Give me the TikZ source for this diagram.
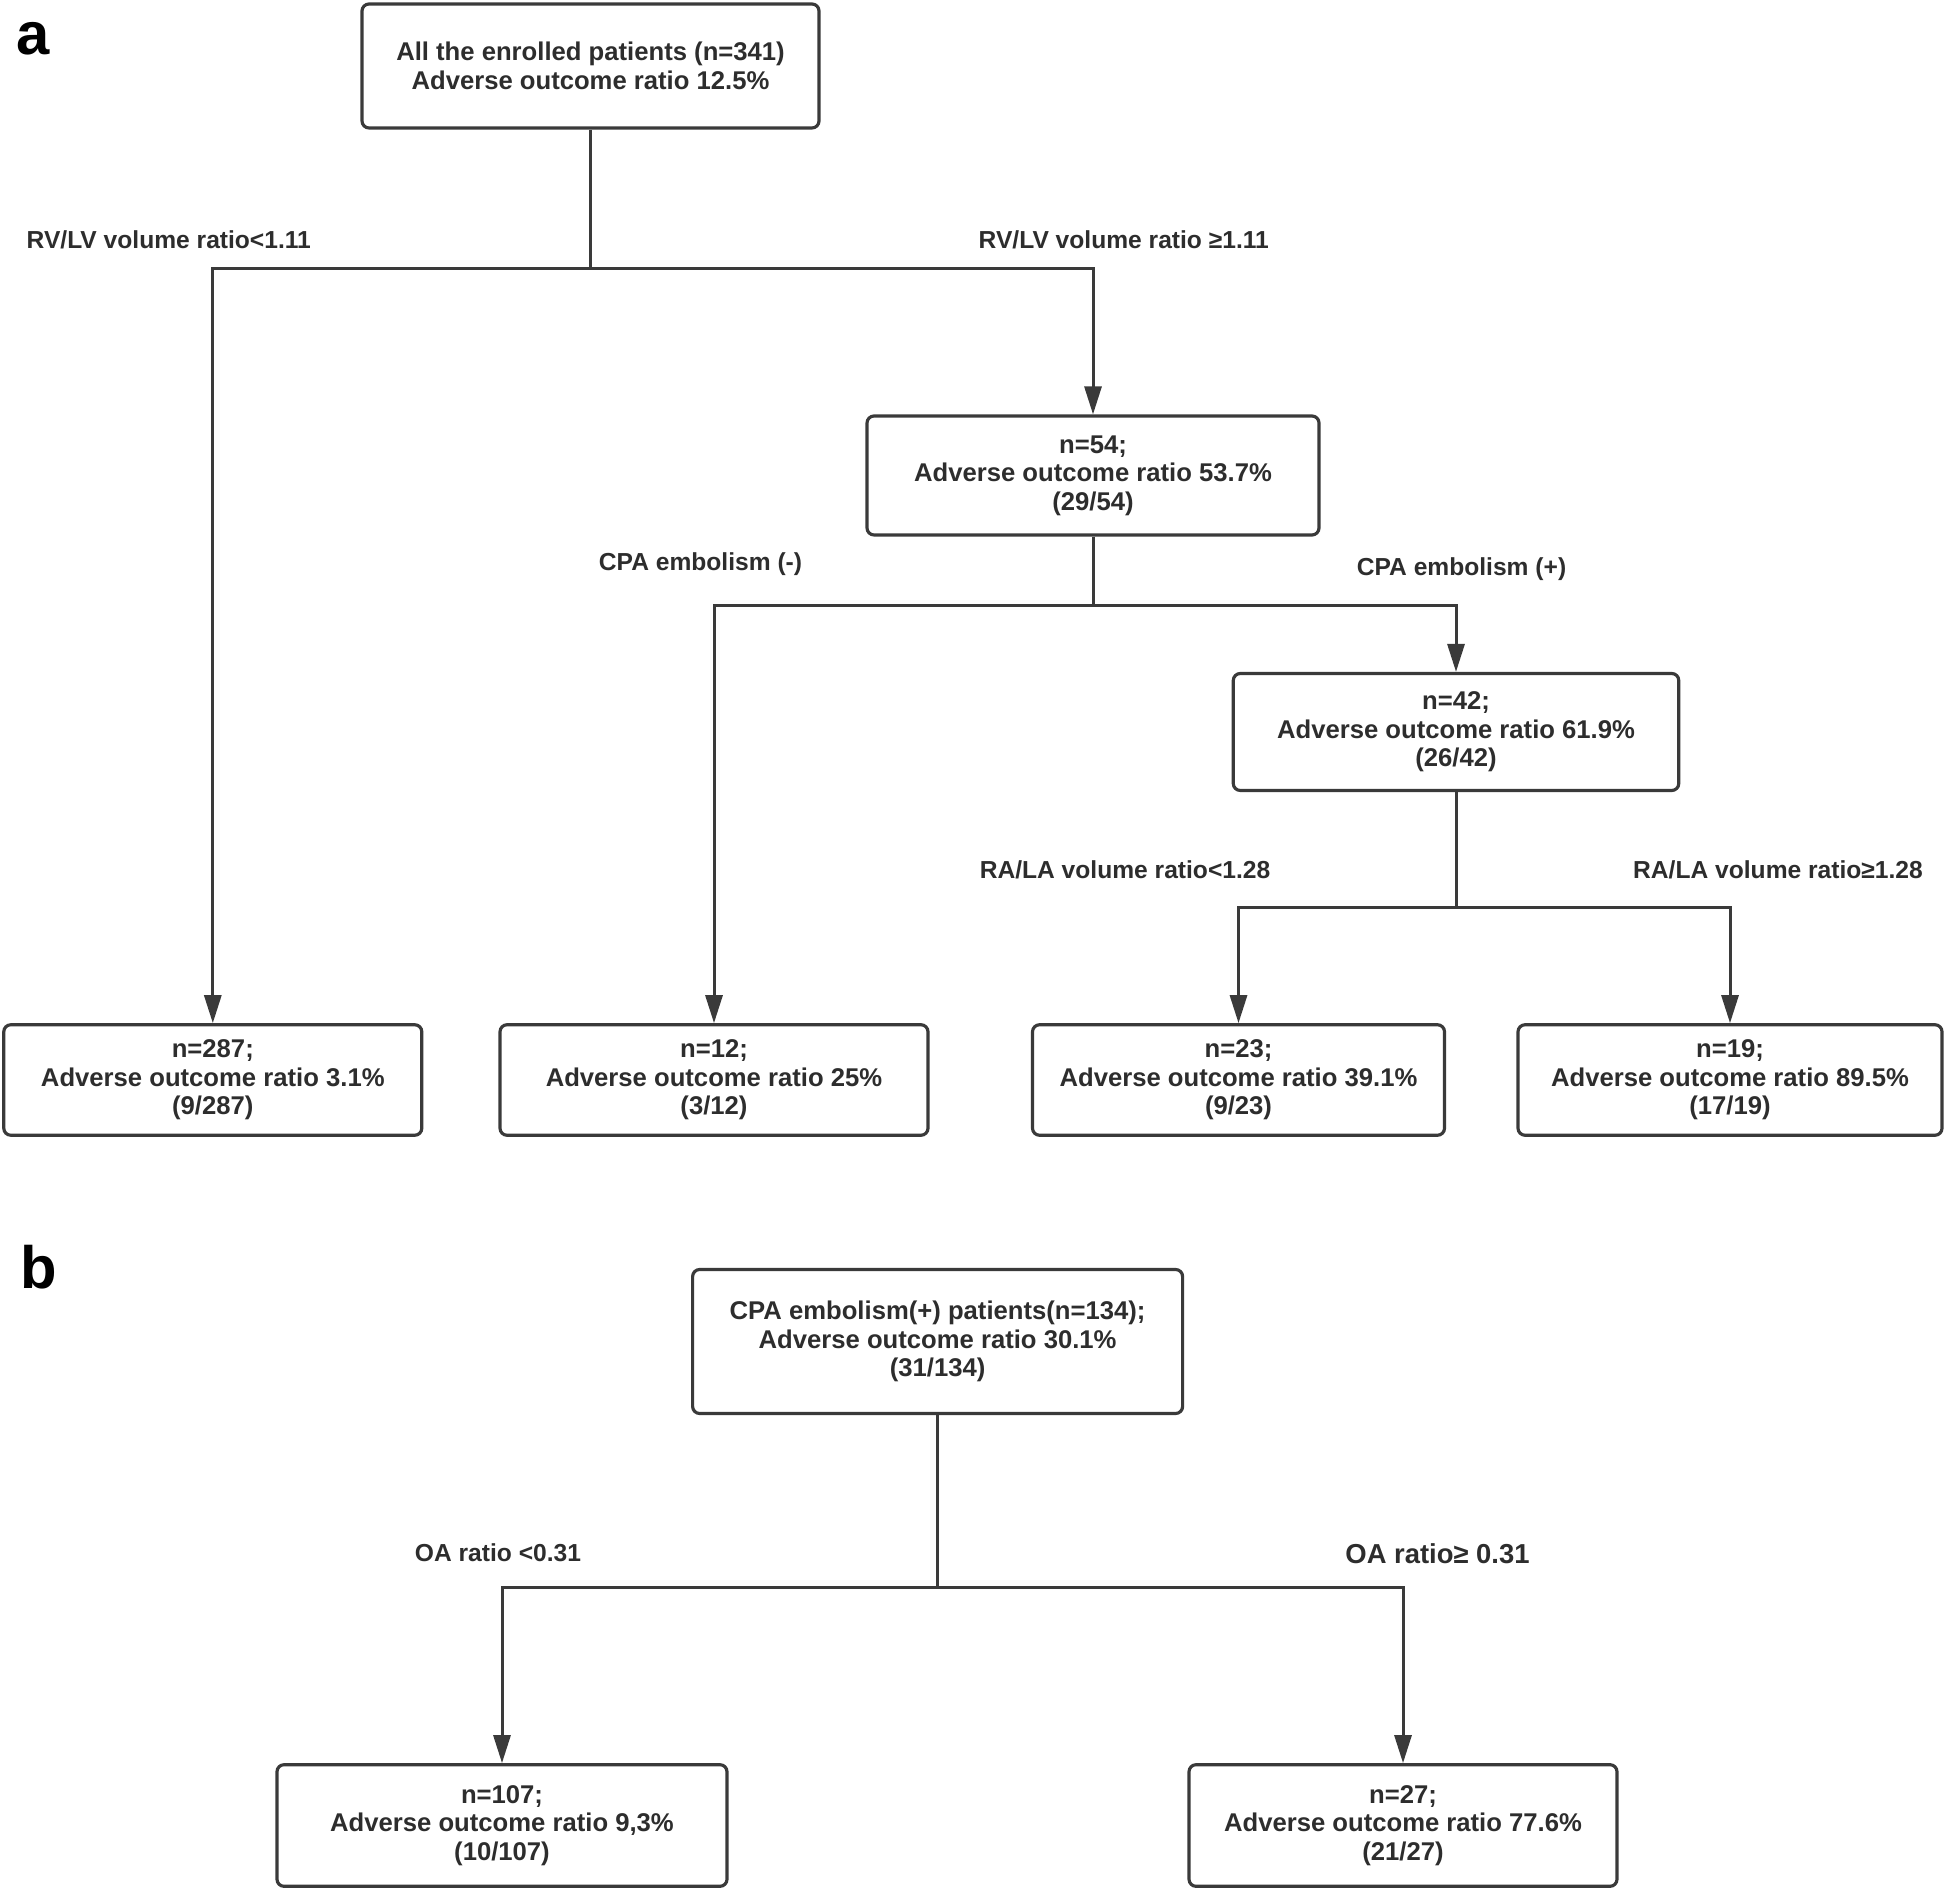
\documentclass[tikz,border=0pt]{standalone}
\usepackage{fontspec}
\setmainfont{Liberation Sans}
\usetikzlibrary{positioning,arrows.meta}
\definecolor{linegray}{RGB}{58,58,58}
\definecolor{txtgray}{RGB}{45,45,45}

\begin{document}
\begin{tikzpicture}[on grid,
box/.style ={rectangle, rounded corners=2pt, draw=linegray, line width=0.9pt,
 align=center, text=txtgray, inner sep=0pt,
 font=\fontsize{7.3}{8.1}\selectfont\bfseries},
cut/.style ={text=txtgray, font=\fontsize{7}{8}\selectfont\bfseries},
tag/.style ={font=\fontsize{17}{17}\selectfont\bfseries},
link/.style ={draw=linegray, line width=0.85pt},
arr/.style ={link, -{Triangle[length=2.8mm,width=1.7mm]}}]
\useasboundingbox (0,0) rectangle (19.46,-18.92);

% panel a
\node[tag] (taga) at (0.335,-0.385) {a};
\node[box, minimum width=4.57cm, minimum height=1.24cm] (all) at (5.905,-0.66)
 {All the enrolled patients (n=341)\\Adverse outcome ratio 12.5\%};
\node[box, minimum width=4.52cm, minimum height=1.19cm] (n54) [below right=4.095cm and 5.025cm of all]
 {n=54;\\Adverse outcome ratio 53.7\%\\(29/54)};
\node[box, minimum width=4.18cm, minimum height=1.105cm] (n287) [below left=10.14cm and 3.777cm of all]
 {n=287;\\Adverse outcome ratio 3.1\%\\(9/287)};
\node[box, minimum width=4.455cm, minimum height=1.17cm] (n42) [below right=2.565cm and 3.63cm of n54]
 {n=42;\\Adverse outcome ratio 61.9\%\\(26/42)};
\node[box, minimum width=4.28cm, minimum height=1.105cm] (n12) [below left=6.045cm and 3.79cm of n54]
 {n=12;\\Adverse outcome ratio 25\%\\(3/12)};
\node[box, minimum width=4.12cm, minimum height=1.105cm] (n23) [below left=3.48cm and 2.175cm of n42]
 {n=23;\\Adverse outcome ratio 39.1\%\\(9/23)};
\node[box, minimum width=4.24cm, minimum height=1.105cm] (n19) [below right=3.48cm and 2.74cm of n42]
 {n=19;\\Adverse outcome ratio 89.5\%\\(17/19)};

\coordinate[below=2.03cm of all] (s1);
\coordinate[below=1.30cm of n54] (s2);
\coordinate[below=1.752cm of n42] (s3);

\draw[link] (all) -- (s1);
\draw[arr] (s1) -| (n287);
\draw[arr] (s1) -| (n54);
\draw[link] (n54) -- (s2);
\draw[arr] (s2) -| (n12);
\draw[arr] (s2) -| (n42);
\draw[link] (n42) -- (s3);
\draw[arr] (s3) -| (n23);
\draw[arr] (s3) -| (n19);

\node[cut] (c1) at (1.688,-2.395) {RV/LV volume ratio<1.11};
\node[cut] (c2) at (11.238,-2.395) {RV/LV volume ratio ≥1.11};
\node[cut] (c3) at (7.005,-5.646) {CPA embolism (-)};
\node[cut] (c4) at (14.615,-5.696) {CPA embolism (+)};
\node[cut] (c5) at (11.25,-8.70) {RA/LA volume ratio<1.28};
\node[cut] (c6) at (17.78,-8.70) {RA/LA volume ratio≥1.28};

% panel b
\node[tag] (tagb) at (0.385,-12.67) {b};
\node[box, minimum width=4.9cm, minimum height=1.44cm] (cpa) at (9.376,-13.415)
 {CPA embolism(+) patients(n=134);\\Adverse outcome ratio 30.1\%\\(31/134)};
\node[box, minimum width=4.5cm, minimum height=1.216cm] (n107) [below left=4.84cm and 4.356cm of cpa]
 {n=107;\\Adverse outcome ratio 9,3\%\\(10/107)};
\node[box, minimum width=4.28cm, minimum height=1.216cm] (n27) [below right=4.84cm and 4.654cm of cpa]
 {n=27;\\Adverse outcome ratio 77.6\%\\(21/27)};

\coordinate[below=2.457cm of cpa] (s4);
\draw[link] (cpa) -- (s4);
\draw[arr] (s4) -| (n107);
\draw[arr] (s4) -| (n27);

\node[cut] (c7) at (4.98,-15.525) {OA ratio <0.31};
\node[cut, font=\fontsize{7.8}{9}\selectfont\bfseries] (c8) at (14.375,-15.537) {OA ratio≥ 0.31};
\end{tikzpicture}
\end{document}
